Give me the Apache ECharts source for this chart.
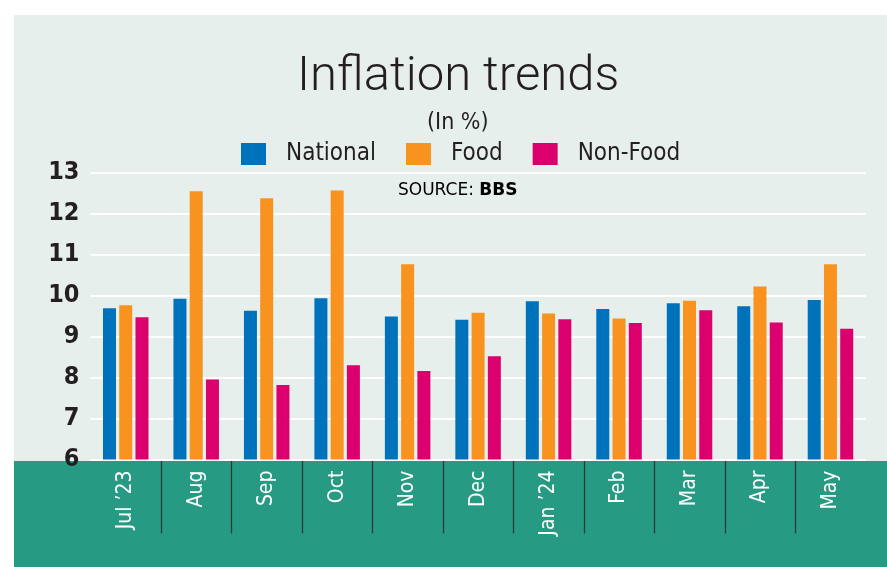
<!DOCTYPE html>
<html>
<head>
<meta charset="utf-8">
<style>
  html, body { margin: 0; padding: 0; background: #ffffff; }
  #chart { width: 887px; height: 567px; }
</style>
<script src="https://cdn.jsdelivr.net/npm/echarts@6/dist/echarts.min.js"></script>
</head>
<body>
<div id="chart"></div>
<script>
// months on the x axis
var months = ['Jul \u201923', 'Aug', 'Sep', 'Oct', 'Nov', 'Dec', 'Jan \u201924', 'Feb', 'Mar', 'Apr', 'May'];
// inflation, in %
var national = [9.69, 9.92, 9.63, 9.93, 9.49, 9.41, 9.86, 9.67, 9.81, 9.74, 9.89];
var food = [9.76, 12.54, 12.37, 12.56, 10.76, 9.58, 9.56, 9.44, 9.87, 10.22, 10.76];
var nonFood = [9.47, 7.95, 7.82, 8.30, 8.16, 8.52, 9.42, 9.33, 9.64, 9.34, 9.19];
var yTicks = [6, 7, 8, 9, 10, 11, 12, 13];
// boundaries between months get a dark separator in the label band
var separators = [1, 2, 3, 4, 5, 6, 7, 8, 9, 10];

var narrow = "'Liberation Sans Narrow', 'DejaVu Sans Condensed', sans-serif";
var ink = '#231f20';

var chart = echarts.init(document.getElementById('chart'));

chart.setOption({
	backgroundColor: '#ffffff',
	animation: false,
	title: [{
		text: 'Inflation trends',
		left: 297,
		top: 53,
		padding: 0,
		textStyle: {
			fontFamily: 'Roboto, sans-serif',
			fontWeight: 300,
			fontSize: 49,
			color: ink
		}
	}, {
		text: '(In %)',
		left: 427,
		top: 112,
		padding: 0,
		textStyle: {
			fontFamily: narrow,
			fontWeight: 'normal',
			fontSize: 23,
			color: ink
		}
	}],
	legend: {
		top: 142,
		left: 241,
		padding: 0,
		itemWidth: 25,
		itemHeight: 22,
		itemGap: 30,
		icon: 'rect',
		data: ['National', 'Food', 'Non-Food'],
		textStyle: {
			fontFamily: narrow,
			fontSize: 24,
			color: ink,
			padding: [0, 0, 0, 15]
		}
	},
	graphic: [{
		type: 'rect',
		z: -10,
		shape: { x: 14, y: 15, width: 873, height: 446 },
		style: { fill: '#e6efec' }
	}, {
		type: 'rect',
		z: -10,
		shape: { x: 14, y: 461, width: 873, height: 106 },
		style: { fill: '#279a83' }
	}, {
		type: 'text',
		left: 398,
		top: 182,
		style: {
			text: '{a|SOURCE: }{b|BBS}',
			rich: {
				a: { fontFamily: 'DejaVu Sans', fontSize: 17, color: '#333333' },
				b: { fontFamily: 'DejaVu Sans', fontSize: 17, fontWeight: 'bold', color: '#333333' }
			}
		}
	}],
	grid: {
		left: 90.5,
		right: 21.3,
		top: 172.5,
		bottom: 107.5
	},
	xAxis: {
		type: 'category',
		data: months,
		axisLine: { show: false },
		axisTick: { show: false },
		axisLabel: {
			rotate: 90,
			margin: 11,
			color: '#ffffff',
			fontFamily: narrow,
			fontSize: 21
		}
	},
	yAxis: {
		type: 'value',
		min: yTicks[0],
		max: yTicks[yTicks.length - 1],
		interval: 1,
		axisLine: { show: false },
		axisTick: { show: false },
		axisLabel: {
			margin: 11,
			color: ink,
			fontFamily: narrow,
			fontWeight: 'bold',
			fontSize: 25
		},
		splitLine: {
			lineStyle: { color: '#ffffff', width: 2 }
		}
	},
	series: [{
		name: 'National',
		type: 'bar',
		data: national,
		barWidth: 13,
		barGap: '25%',
		itemStyle: { color: '#0072bc' }
	}, {
		name: 'Food',
		type: 'bar',
		data: food,
		barWidth: 13,
		barGap: '25%',
		itemStyle: { color: '#f7931e' }
	}, {
		name: 'Non-Food',
		type: 'bar',
		data: nonFood,
		barWidth: 13,
		barGap: '25%',
		itemStyle: { color: '#db006e' }
	}, {
		type: 'custom',
		silent: true,
		clip: false,
		z: 5,
		data: separators.map(function (i) { return [i, yTicks[0]]; }),
		encode: { x: 0, y: 1 },
		renderItem: function (params, api) {
			var p = api.coord([api.value(0), api.value(1)]);
			var band = api.size([1, 0])[0];
			var x = Math.round(p[0] - band / 2) + 0.5;
			return {
				type: 'line',
				shape: { x1: x, y1: p[1] + 1.5, x2: x, y2: p[1] + 74 },
				style: { stroke: '#2a3a35', lineWidth: 1.3 }
			};
		}
	}]
});
</script>
</body>
</html>
